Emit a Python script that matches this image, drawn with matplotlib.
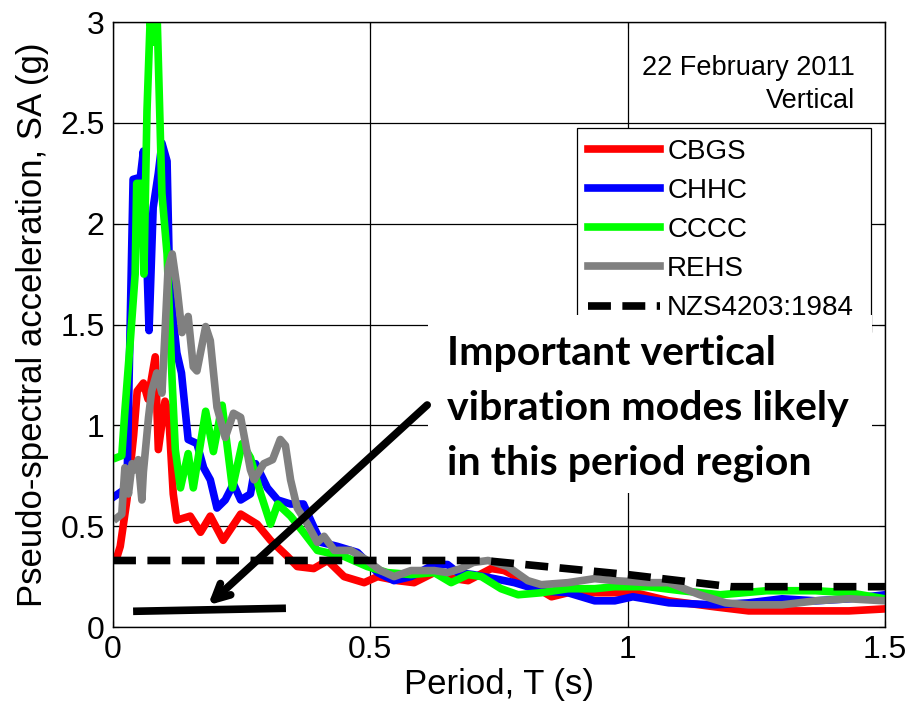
import numpy as np
import matplotlib
matplotlib.use('Agg')
import matplotlib.pyplot as plt
from matplotlib.patches import Rectangle
from matplotlib.ticker import FormatStrFormatter

plt.rcParams['font.family'] = ['Liberation Sans', 'DejaVu Sans']

# spectra (period in s, SA in g)
t_cbgs = [0.008, 0.014, 0.027, 0.040, 0.047, 0.059, 0.068, 0.082, 0.088, 0.101, 0.108, 0.117,
          0.124, 0.150, 0.170, 0.189, 0.214, 0.248, 0.280, 0.306, 0.339, 0.358, 0.390, 0.417,
          0.449, 0.488, 0.514, 0.553, 0.585, 0.624, 0.663, 0.690, 0.735, 0.760, 0.806, 0.852,
          0.884, 0.949, 1.014, 1.08, 1.17, 1.235, 1.30, 1.365, 1.43, 1.5]
sa_cbgs = [0.35, 0.40, 0.63, 0.95, 1.17, 1.21, 1.13, 1.34, 0.88, 1.12, 1.06, 0.66,
           0.53, 0.55, 0.47, 0.55, 0.43, 0.56, 0.51, 0.43, 0.35, 0.30, 0.29, 0.33,
           0.25, 0.22, 0.25, 0.23, 0.22, 0.27, 0.24, 0.23, 0.29, 0.28, 0.22, 0.15,
           0.17, 0.17, 0.17, 0.13, 0.10, 0.08, 0.08, 0.08, 0.08, 0.09]

t_chhc = [0.004, 0.027, 0.033, 0.039, 0.053, 0.059, 0.064, 0.070, 0.078, 0.088, 0.095, 0.105,
          0.110, 0.124, 0.133, 0.146, 0.163, 0.176, 0.189, 0.202, 0.218, 0.234, 0.248, 0.267,
          0.277, 0.300, 0.320, 0.345, 0.370, 0.384, 0.404, 0.436, 0.475, 0.514, 0.546, 0.579,
          0.624, 0.650, 0.670, 0.700, 0.741, 0.780, 0.832, 0.884, 0.936, 0.975, 1.01, 1.08,
          1.17, 1.235, 1.30, 1.365, 1.43, 1.5]
sa_chhc = [0.65, 0.69, 1.46, 2.22, 2.23, 2.36, 1.95, 1.47, 2.08, 2.25, 2.40, 2.31,
           1.70, 1.36, 1.26, 0.93, 0.91, 0.79, 0.73, 0.59, 0.63, 0.71, 0.63, 0.66,
           0.81, 0.69, 0.63, 0.61, 0.61, 0.53, 0.42, 0.40, 0.37, 0.27, 0.23, 0.25,
           0.31, 0.31, 0.27, 0.26, 0.24, 0.22, 0.18, 0.17, 0.13, 0.13, 0.15, 0.12,
           0.11, 0.12, 0.14, 0.13, 0.14, 0.16]

t_cccc = [0.007, 0.017, 0.023, 0.033, 0.043, 0.046, 0.056, 0.060, 0.066, 0.072, 0.079, 0.086,
          0.095, 0.105, 0.115, 0.121, 0.131, 0.146, 0.156, 0.180, 0.195, 0.212, 0.232, 0.251,
          0.267, 0.287, 0.306, 0.320, 0.345, 0.370, 0.397, 0.449, 0.494, 0.533, 0.579, 0.624,
          0.657, 0.690, 0.716, 0.754, 0.787, 0.832, 0.884, 0.936, 0.975, 1.04, 1.105, 1.18,
          1.27, 1.365, 1.43, 1.5]
sa_cccc = [0.84, 0.85, 1.07, 1.40, 1.75, 2.20, 2.20, 1.75, 2.56, 3.0, 2.9, 3.0,
           2.15, 1.85, 1.21, 0.88, 0.69, 0.86, 0.69, 1.07, 0.87, 1.10, 0.69, 0.91,
           0.84, 0.66, 0.51, 0.61, 0.55, 0.47, 0.38, 0.35, 0.30, 0.27, 0.26, 0.27,
           0.22, 0.26, 0.25, 0.19, 0.16, 0.17, 0.19, 0.19, 0.20, 0.20, 0.18, 0.16,
           0.18, 0.18, 0.17, 0.14]

t_rehs = [0.007, 0.017, 0.023, 0.030, 0.037, 0.043, 0.049, 0.056, 0.059, 0.069, 0.075, 0.085,
          0.095, 0.101, 0.107, 0.115, 0.124, 0.134, 0.146, 0.156, 0.163, 0.180, 0.189, 0.202,
          0.218, 0.234, 0.248, 0.267, 0.274, 0.293, 0.310, 0.325, 0.335, 0.345, 0.358, 0.378,
          0.397, 0.410, 0.430, 0.462, 0.494, 0.520, 0.546, 0.579, 0.624, 0.650, 0.676, 0.700,
          0.729, 0.767, 0.806, 0.832, 0.884, 0.936, 0.975, 1.04, 1.08, 1.14, 1.19, 1.235,
          1.30, 1.365, 1.43, 1.5]
sa_rehs = [0.54, 0.56, 0.79, 0.66, 0.81, 0.78, 0.83, 0.63, 0.77, 1.04, 1.17, 1.26,
           1.16, 1.46, 1.78, 1.85, 1.69, 1.46, 1.54, 1.29, 1.27, 1.49, 1.42, 1.09,
           0.94, 1.06, 1.04, 0.78, 0.73, 0.81, 0.83, 0.93, 0.90, 0.73, 0.59, 0.51,
           0.42, 0.45, 0.38, 0.38, 0.33, 0.28, 0.25, 0.28, 0.28, 0.27, 0.29, 0.32,
           0.33, 0.30, 0.23, 0.21, 0.22, 0.24, 0.23, 0.22, 0.22, 0.16, 0.12, 0.11,
           0.11, 0.13, 0.14, 0.13]

# design spectrum
t_nzs = [0.0, 0.72, 1.0, 1.2, 1.5]
sa_nzs = [0.33, 0.33, 0.26, 0.20, 0.20]

x_ticks = [0, 0.5, 1, 1.5]
y_ticks = [0, 0.5, 1, 1.5, 2, 2.5, 3]

fig = plt.figure(figsize=(9.13, 7.11), dpi=100)
ax = fig.add_axes([0.1238, 0.1181, 0.8455, 0.8509])

lw = 5.5
ax.plot(t_cbgs, sa_cbgs, color=(1, 0, 0), lw=lw, label='CBGS')
ax.plot(t_chhc, sa_chhc, color=(0, 0, 1), lw=lw, label='CHHC')
ax.plot(t_cccc, sa_cccc, color=(0, 1, 0), lw=lw, label='CCCC')
ax.plot(t_rehs, sa_rehs, color=(0.5, 0.5, 0.5), lw=lw, label='REHS')
ax.plot(t_nzs, sa_nzs, color='black', lw=lw, dashes=(3.0, 1.5), label='NZS4203:1984')

ax.set_xlim(0, 1.5)
ax.set_ylim(0, 3)
ax.set_xticks(x_ticks)
ax.set_yticks(y_ticks)
ax.xaxis.set_major_formatter(FormatStrFormatter('%g'))
ax.yaxis.set_major_formatter(FormatStrFormatter('%g'))
ax.tick_params(direction='in', length=4, width=0.8, top=True, right=True, labelsize=23, pad=6)
ax.grid(True, color='black', lw=0.9)
for sp in ax.spines.values():
    sp.set_linewidth(1.0)

ax.set_xlabel('Period, T (s)', fontsize=25, labelpad=2)
ax.set_ylabel('Pseudo-spectral acceleration, SA (g)', fontsize=25, labelpad=8)

ax.text(0.961, 0.912, '22 February 2011', transform=ax.transAxes, ha='right', va='baseline', fontsize=19.5)
ax.text(0.961, 0.858, 'Vertical', transform=ax.transAxes, ha='right', va='baseline', fontsize=19.5)

leg = ax.legend(loc='upper left', bbox_to_anchor=(0.601, 0.0, 0.381, 0.825), mode='expand',
                borderaxespad=0, fontsize=20, handlelength=2.6, handletextpad=0.25,
                labelspacing=0.47, borderpad=0.4, fancybox=False, framealpha=1)
leg.get_frame().set_edgecolor('black')
leg.get_frame().set_linewidth(0.9)

# white panel for the note, drawn over the legend bottom
ax.add_patch(Rectangle((0.408, 0.2215), 0.575, 0.294, transform=ax.transAxes,
                       facecolor='white', edgecolor='none', zorder=6))
note = ['Important vertical', 'vibration modes likely', 'in this period region']
for i, line in enumerate(note):
    ax.text(0.433, 0.433 - i * 0.0905, line, transform=ax.transAxes, ha='left', va='baseline',
            fontsize=29.5, fontweight='bold', family=['Lato', 'DejaVu Sans'], zorder=7)

# arrow and bar marking the period band
ax.annotate('', xy=(0.123, 0.036), xytext=(0.407, 0.367), xycoords='axes fraction',
            textcoords='axes fraction',
            arrowprops=dict(arrowstyle='->,head_length=1.1,head_width=0.55', lw=5.5, color='black',
                            shrinkA=0, shrinkB=0), zorder=8)
ax.plot([0.026, 0.224], [0.026, 0.031], transform=ax.transAxes, color='black', lw=5.5,
        solid_capstyle='butt', zorder=8)

fig.savefig('out.png', dpi=100)
